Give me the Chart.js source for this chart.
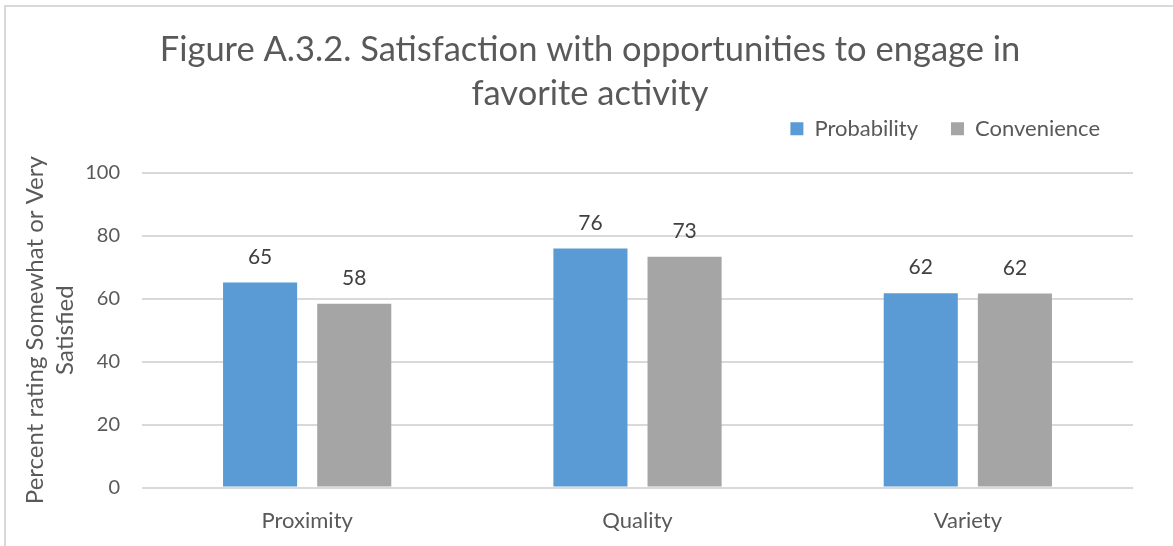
<!DOCTYPE html>
<html>
<head>
<meta charset="utf-8">
<script src="https://cdn.jsdelivr.net/npm/chart.js@4"></script>
<style>
  html, body { margin: 0; padding: 0; background: #fff; }
  #wrap { position: relative; width: 1173px; height: 546px; overflow: hidden; }
  #frame { position: absolute; left: 4px; top: 5px; width: 1180px; height: 560px;
           border-top: 2px solid #d9d9d9; border-left: 2px solid #d9d9d9; box-sizing: border-box; }
  canvas { position: absolute; left: 0; top: 0; }
</style>
</head>
<body>
<div id="wrap">
  <div id="frame"></div>
  <canvas id="c" width="1173" height="546"></canvas>
</div>
<script>
const titleLines = ["Figure A.3.2. Satisfaction with opportunities to engage in", "favorite activity"];
const categories = ["Proximity", "Quality", "Variety"];
const probability = [65.1, 75.9, 61.7];
const convenience = [58.4, 73.3, 61.6];
const seriesNames = ["Probability", "Convenience"];
const yTitle = ["Percent rating Somewhat or Very", "Satisfied"];
const yMin = 0, yMax = 100, yStep = 20;

const FONT = "Lato, 'Open Sans', sans-serif";
const TEXT = "#595959";
const LEGEND_EXTRA = 23;

const valueLabels = {
  id: 'valueLabels',
  afterDatasetsDraw(chart) {
    const ctx = chart.ctx;
    ctx.save();
    ctx.font = "21px " + FONT;
    ctx.fillStyle = "#404040";
    ctx.textAlign = "center";
    ctx.textBaseline = "alphabetic";
    chart.data.datasets.forEach((ds, i) => {
      const meta = chart.getDatasetMeta(i);
      meta.data.forEach((bar, j) => {
        ctx.fillText(String(Math.round(ds.data[j])), bar.x, bar.y - 19);
      });
    });
    ctx.restore();
  }
};

const legendGap = {
  id: 'legendGap',
  beforeInit(chart) {
    const lg = chart.legend;
    if (!lg) return;
    const fit = lg.fit;
    lg.fit = function () {
      fit.call(this);
      this.height += LEGEND_EXTRA;
    };
  }
};

new Chart(document.getElementById('c'), {
  type: 'bar',
  data: {
    labels: categories,
    datasets: [
      { label: seriesNames[0], data: probability, backgroundColor: '#5B9BD5',
        categoryPercentage: 0.57, barPercentage: 0.787 },
      { label: seriesNames[1], data: convenience, backgroundColor: '#A5A5A5',
        categoryPercentage: 0.57, barPercentage: 0.787 }
    ]
  },
  options: {
    responsive: false,
    animation: false,
    devicePixelRatio: 1,
    layout: { padding: { left: 20, right: 13, top: 0, bottom: 0 } },
    plugins: {
      title: {
        display: true,
        text: titleLines,
        color: TEXT,
        font: { family: FONT, size: 34.5, weight: 'normal', lineHeight: 1.27 },
        padding: { top: 28, bottom: -31 }
      },
      legend: {
        position: 'top',
        align: 'end',
        fullSize: false,
        labels: {
          color: TEXT,
          font: { family: FONT, size: 22 },
          boxWidth: 13, boxHeight: 13,
          padding: 33
        }
      },
      tooltip: { enabled: false }
    },
    scales: {
      x: {
        grid: { display: false },
        border: { display: false },
        ticks: { color: TEXT, font: { family: FONT, size: 22 }, padding: 12 }
      },
      y: {
        min: yMin, max: yMax,
        ticks: { stepSize: yStep, color: TEXT, font: { family: FONT, size: 20 }, padding: 22 },
        grid: { color: '#d9d9d9', lineWidth: 2, drawTicks: false },
        border: { display: false },
        title: {
          display: true,
          text: yTitle,
          color: TEXT,
          font: { family: FONT, size: 24, lineHeight: 1.25 },
          padding: { top: 0, bottom: 0 }
        },
        afterFit(scale) { scale.width = 122; }
      },
      yR: {
        position: 'right',
        display: true,
        grid: { display: false, drawTicks: false },
        border: { display: false },
        ticks: { display: false },
        afterFit(scale) { scale.width = 27; }
      }
    }
  },
  plugins: [valueLabels, legendGap]
});
</script>
</body>
</html>
